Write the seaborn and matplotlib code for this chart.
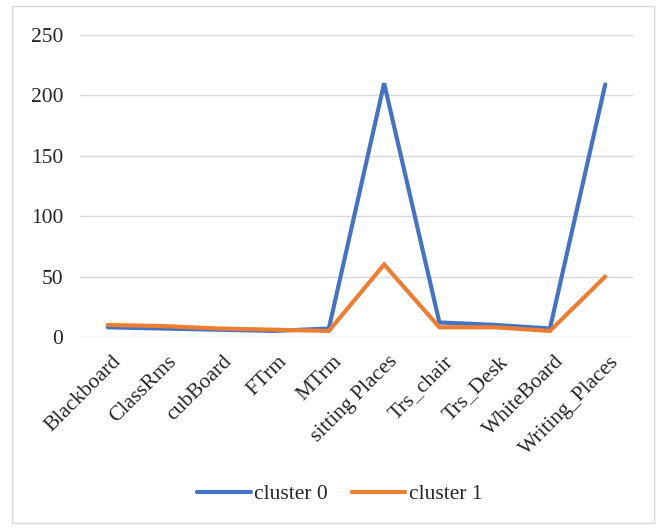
import matplotlib
matplotlib.use("Agg")
import matplotlib.pyplot as plt
import matplotlib.transforms as mtransforms
import seaborn as sns
import pandas as pd

categories = ["Blackboard", "ClassRms", "cubBoard", "FTrm", "MTrm",
              "sitting Places", "Trs_chair", "Trs_Desk", "WhiteBoard", "Writing_Places"]
cluster0 = [8, 7, 6, 5, 7, 210, 12, 10, 7, 209]
cluster1 = [10, 9, 7, 6, 5, 60, 8, 8, 5, 50]
series_names = ["cluster 0", "cluster 1"]
y_ticks = [0, 50, 100, 150, 200, 250]

sns.set_theme(style="white")
plt.rcParams["font.family"] = ["Liberation Serif", "DejaVu Serif"]
FS = 15.5

df = pd.DataFrame({
    "category": categories * 2,
    "pos": list(range(len(categories))) * 2,
    "value": cluster0 + cluster1,
    "series": [series_names[0]] * len(categories) + [series_names[1]] * len(categories),
})

fig = plt.figure(figsize=(6.62, 5.29), dpi=100)
ax = fig.add_axes([0.121, 0.363, 0.835, 0.571])

# light frame around the whole chart
fig.patches.append(plt.Rectangle((12 / 662, 6 / 529), 642 / 662, 517 / 529,
                                 transform=fig.transFigure, fill=False,
                                 edgecolor="#d9d9d9", linewidth=1.0))

palette = {"cluster 0": "#4472c4", "cluster 1": "#ed7d31"}
sns.lineplot(data=df, x="pos", y="value", hue="series", palette=palette,
             linewidth=3.0, ax=ax, legend=False, sort=False)
for ln in ax.get_lines():
    ln.set_solid_capstyle("round")
    ln.set_solid_joinstyle("miter")

ax.set_xlim(-0.5, len(categories) - 0.5)
ax.set_ylim(0, 250)
ax.set_yticks(y_ticks)
ax.set_yticklabels([str(v) for v in y_ticks], fontsize=FS)
ax.yaxis.grid(True, color="#d9d9d9", linewidth=1.0)
ax.set_axisbelow(True)
for s in ["top", "right", "left", "bottom"]:
    ax.spines[s].set_visible(False)
ax.tick_params(axis="y", length=0, pad=12)
ax.tick_params(axis="x", length=0, pad=11)
ax.set_xticks(range(len(categories)))
ax.set_xticklabels(categories, rotation=45, ha="right", rotation_mode="anchor", fontsize=FS)
shift = mtransforms.ScaledTranslation(4 / 100, 0, fig.dpi_scale_trans)
for lbl in ax.get_xticklabels():
    lbl.set_transform(lbl.get_transform() + shift)
ax.set_xlabel("")
ax.set_ylabel("")

handles = [plt.Line2D([0], [0], color=palette[n], linewidth=3.0, solid_capstyle="round")
           for n in series_names]
fig.legend(handles, series_names, loc="center", bbox_to_anchor=(0.513, 0.066),
           ncol=2, frameon=False, fontsize=FS, handlelength=2.5,
           handletextpad=0.15, columnspacing=1.1)

fig.savefig("out.png", dpi=100)
